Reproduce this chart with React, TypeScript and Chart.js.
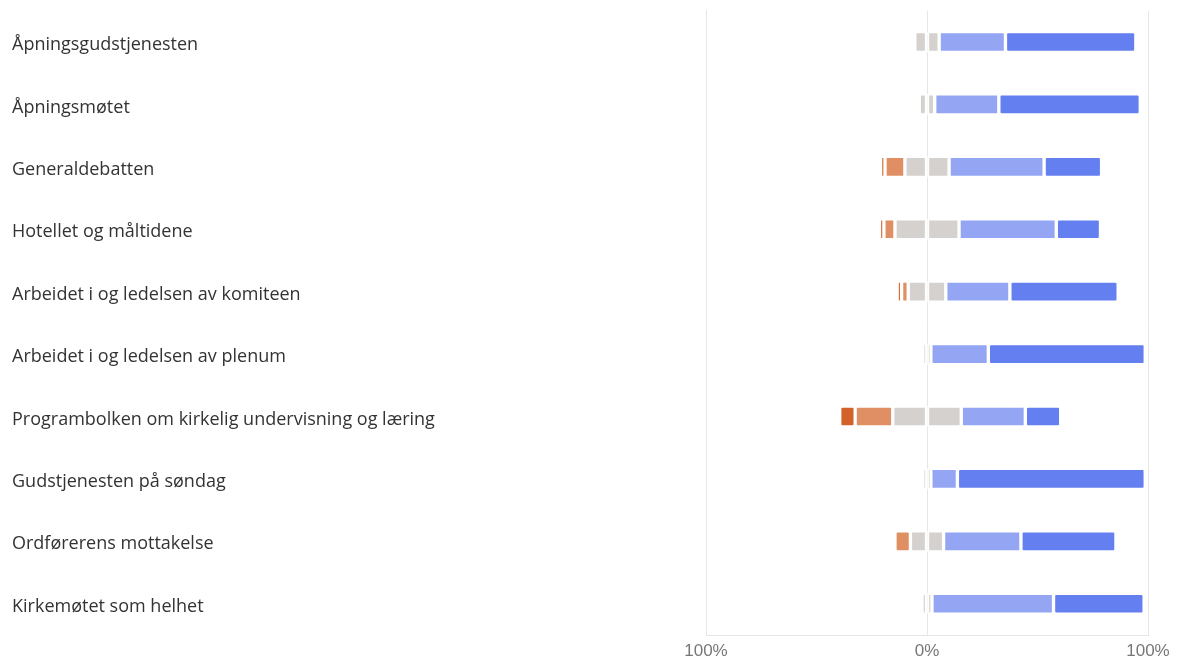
import React, { useEffect, useRef } from "react";
import { Chart, registerables } from "chart.js";

Chart.register(...registerables);

const categories = [
  "Åpningsgudstjenesten",
  "Åpningsmøtet",
  "Generaldebatten",
  "Hotellet og måltidene",
  "Arbeidet i og ledelsen av komiteen",
  "Arbeidet i og ledelsen av plenum",
  "Programbolken om kirkelig undervisning og læring",
  "Gudstjenesten på søndag",
  "Ordførerens mottakelse",
  "Kirkemøtet som helhet",
];

// percentages of responses
const veryNegative = [0, 0, 2, 2, 2, 0, 7, 0, 0, 0];
const negative = [0, 0, 9, 5, 3, 0, 17, 0, 7, 0];
const neutral = [11, 7, 20, 29, 17, 3.5, 31, 3.5, 15, 4.5];
const positive = [30, 29, 43, 44, 29, 26, 29, 12, 35, 55];
const veryPositive = [59, 64, 26, 20, 49, 71, 16, 85, 43, 41];

const xTicks = [-100, 0, 100];

const colors = {
  veryNegative: "#D2622A",
  negative: "#E08F64",
  neutral: "#D4D1CE",
  positive: "#94A5F4",
  veryPositive: "#647FF0",
};

export default function App() {
  const ref = useRef<HTMLCanvasElement | null>(null);

  useEffect(() => {
    if (!ref.current) return;
    const halfNeutral = neutral.map((v) => v / 2);
    const common = {
      borderColor: "#ffffff",
      borderWidth: 2,
      borderSkipped: false as const,
      borderRadius: 3,
      barThickness: 21,
      stack: "s",
    };
    const chart = new Chart(ref.current, {
      type: "bar",
      data: {
        labels: categories,
        datasets: [
          { ...common, label: "Nøytral-", data: halfNeutral.map((v) => -v), backgroundColor: colors.neutral },
          { ...common, label: "Negativ", data: negative.map((v) => -v), backgroundColor: colors.negative },
          { ...common, label: "Svært negativ", data: veryNegative.map((v) => -v), backgroundColor: colors.veryNegative },
          { ...common, label: "Nøytral+", data: halfNeutral, backgroundColor: colors.neutral },
          { ...common, label: "Positiv", data: positive, backgroundColor: colors.positive },
          { ...common, label: "Svært positiv", data: veryPositive, backgroundColor: colors.veryPositive },
        ],
      },
      options: {
        indexAxis: "y",
        animation: false,
        responsive: true,
        maintainAspectRatio: false,
        layout: { padding: { left: 12, top: 10, right: 32, bottom: 1 } },
        plugins: { legend: { display: false }, tooltip: { enabled: false } },
        scales: {
          x: {
            stacked: true,
            min: -100,
            max: 100,
            afterBuildTicks: (scale: any) => {
              scale.ticks = xTicks.map((v) => ({ value: v }));
            },
            afterFit: (scale: any) => {
              scale.height = 26;
            },
            grid: { color: "#e6e6e6", drawTicks: false, lineWidth: 1 },
            border: { color: "#e6e6e6" },
            ticks: {
              padding: 6,
              color: "#777777",
              font: { family: "Liberation Sans", size: 17 },
              callback: (v: any) => Math.abs(Number(v)) + "%",
            },
          },
          y: {
            stacked: true,
            grid: { display: false, drawTicks: false },
            border: { color: "#e6e6e6" },
            afterFit: (scale: any) => {
              scale.width = 694;
            },
            ticks: {
              crossAlign: "far",
              color: "#333333",
              padding: 0,
              labelOffset: 3,
              font: { family: "Open Sans", size: 18 },
            },
          },
        },
      },
    });
    return () => chart.destroy();
  }, []);

  return (
    <div style={{ position: "fixed", left: 0, top: 0, width: 1180, height: 662, background: "#fff" }}>
      <canvas ref={ref} />
    </div>
  );
}
